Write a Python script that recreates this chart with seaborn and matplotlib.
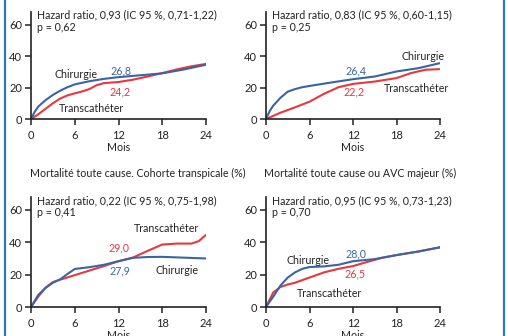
import matplotlib
matplotlib.use("Agg")
import matplotlib.pyplot as plt
import seaborn as sns
import pandas as pd
from matplotlib.lines import Line2D

sns.set_theme(style="white")
plt.rcParams['font.family'] = ['Lato', 'DejaVu Sans']

BLUE = "#3a65a5"
RED = "#e8383d"
FRAME = "#2a7ab9"
INK = "#222222"

# ---- data (cumulative event rate, %) ----
months = [0, 6, 12, 18, 24]

# Panel 1
p1_blue_t = [0, 0.5, 1, 2, 3, 4, 5, 6, 8, 10, 12, 15, 18, 21, 24]
p1_blue_v = [0, 4.5, 7.9, 12, 15.3, 18, 20.2, 22, 24, 25.5, 26.6, 27.8, 29, 31.5, 34.5]
p1_red_t = [0, 1, 2, 3, 4, 5, 6, 7, 8, 9, 10, 12, 14, 16, 18, 20, 22, 24]
p1_red_v = [0, 3, 6.5, 10, 13, 15, 16.3, 17.5, 19, 21.5, 22.8, 23.5, 25, 27, 29.2, 31.5, 33.5, 35]

# Panel 2
p2_blue_t = [0, 0.5, 1, 2, 3, 4, 5, 6, 9, 12, 15, 18, 21, 24]
p2_blue_v = [0, 5, 8.5, 13.5, 17.4, 19, 20.2, 21, 23.2, 25.3, 27, 30.2, 32.3, 35.5]
p2_red_t = [0, 2, 4, 6, 8, 10, 12, 15, 18, 20, 22, 24]
p2_red_v = [0, 4, 7.4, 11, 16, 20.2, 22.3, 23.8, 26, 29.2, 31.3, 31.7]

# Panel 3
p3_blue_t = [0, 1, 2, 3, 4, 5, 6, 8, 10, 12, 14, 16, 18, 21, 24]
p3_blue_v = [0, 7.5, 11.8, 15, 17.1, 20.4, 23.5, 24.6, 26.1, 28.3, 30.4, 30.9, 31, 30.5, 30]
p3_red_t = [0, 1, 2, 3, 4, 6, 8, 10, 12, 14, 16, 18, 20, 22, 23, 24]
p3_red_v = [0, 6.4, 12, 15.4, 16.9, 19.7, 22.5, 25.3, 28.3, 30.6, 34.7, 38.6, 39.2, 39.2, 40.7, 44.6]

# Panel 4
p4_blue_t = [0, 1, 2, 3, 4, 5, 6, 8, 10, 12, 15, 18, 21, 24]
p4_blue_v = [0, 6.4, 13.3, 18.2, 21.4, 23.6, 24.7, 25.1, 26.1, 28.3, 29.6, 32.1, 34.3, 36.9]
p4_red_t = [0, 1, 2, 3, 4, 6, 8, 10, 12, 14, 16, 18, 21, 24]
p4_red_v = [0, 9, 12.4, 13.9, 15, 18.2, 21.4, 23.6, 25.3, 27.9, 30.4, 32.1, 34.3, 36.9]

headers = [
    ("Hazard ratio, 0,93 (IC 95 %, 0,71-1,22)", "p = 0,62"),
    ("Hazard ratio, 0,83 (IC 95 %, 0,60-1,15)", "p = 0,25"),
    ("Hazard ratio, 0,22 (IC 95 %, 0,75-1,98)", "p = 0,41"),
    ("Hazard ratio, 0,95 (IC 95 %, 0,73-1,23)", "p = 0,70"),
]
titles = [None, None,
          "Mortalité toute cause. Cohorte transpicale (%)",
          "Mortalité toute cause ou AVC majeur (%)"]
blue_vals = ["26,8", "26,4", "27,9", "28,0"]
red_vals = ["24,2", "22,2", "29,0", "26,5"]

W, H = 508, 336
fig = plt.figure(figsize=(W / 100, H / 100), dpi=100)

def fx(px):
    return px / W

def fy(py):
    return 1 - py / H

# axes placement in pixels: (x0, x24, y0, ytop)
boxes = [
    (31, 206, 119, 12),
    (266, 440, 119, 12),
    (31, 206, 307, 197),
    (266, 440, 307, 197),
]
series = [
    (p1_blue_t, p1_blue_v, p1_red_t, p1_red_v),
    (p2_blue_t, p2_blue_v, p2_red_t, p2_red_v),
    (p3_blue_t, p3_blue_v, p3_red_t, p3_red_v),
    (p4_blue_t, p4_blue_v, p4_red_t, p4_red_v),
]
# label positions in data coords
label_pos = [
    dict(bv=(12.3, 30.5), rv=(12.2, 17.5), ch=(6.2, 28.5), tr=(8.3, 6.7)),
    dict(bv=(12.4, 30.8), rv=(12.1, 17.3), ch=(21.7, 39.5), tr=(20.7, 19.3)),
    dict(bv=(12.2, 22.0), rv=(12.1, 36.5), ch=(20.0, 22.5), tr=(18.6, 48.5)),
    dict(bv=(12.4, 33.0), rv=(12.3, 20.5), ch=(5.8, 29.0), tr=(8.8, 8.5)),
]
YTOP = 68
FS = 7.7

for i, (x0, x1, y0, yt) in enumerate(boxes):
    ax = fig.add_axes([fx(x0), fy(y0), fx(x1 - x0), (y0 - yt) / H])
    bt, bv, rt, rv = series[i]
    dfb = pd.DataFrame({"t": bt, "v": bv})
    dfr = pd.DataFrame({"t": rt, "v": rv})
    sns.lineplot(data=dfr, x="t", y="v", ax=ax, color=RED, linewidth=1.5)
    sns.lineplot(data=dfb, x="t", y="v", ax=ax, color=BLUE, linewidth=1.5)
    ax.set_xlim(0, 24)
    ax.set_ylim(0, YTOP)
    ax.set_xticks(months)
    ax.set_yticks([0, 20, 40, 60])
    ax.set_xlabel("Mois", fontsize=FS, color=INK, labelpad=0.5)
    ax.set_ylabel("")
    for s in ["top", "right"]:
        ax.spines[s].set_visible(False)
    for s in ["left", "bottom"]:
        ax.spines[s].set_color(INK)
        ax.spines[s].set_linewidth(1.2)
    ax.tick_params(axis="both", which="both", direction="out", length=4,
                   width=1.1, color=INK, labelsize=8, labelcolor=INK, pad=2.5,
                   left=True, bottom=True)
    ax.tick_params(axis="x", pad=4)
    ax.patch.set_alpha(0)
    hr, pv = headers[i]
    ax.text(0.035, 0.97, hr, transform=ax.transAxes, fontsize=FS, color=INK,
            va="center", ha="left")
    ax.text(0.035, 0.855, pv, transform=ax.transAxes, fontsize=FS, color=INK,
            va="center", ha="left")
    lp = label_pos[i]
    ax.text(*lp["bv"], blue_vals[i], color=BLUE, fontsize=FS, ha="center", va="center")
    ax.text(*lp["rv"], red_vals[i], color=RED, fontsize=FS, ha="center", va="center")
    ax.text(*lp["ch"], "Chirurgie", color=INK, fontsize=FS, ha="center", va="center")
    ax.text(*lp["tr"], "Transcathéter", color=INK, fontsize=FS, ha="center", va="center")
    if titles[i]:
        cx = 138 if i == 2 else 360
        fig.text(fx(cx), fy(173), titles[i], fontsize=FS, color=INK,
                 ha="center", va="center")

# decorative frame lines
fig.add_artist(Line2D([fx(4.5), fx(4.5)], [0, 1], color=FRAME, linewidth=1.6))
fig.add_artist(Line2D([fx(503.5), fx(503.5)], [0, 1], color=FRAME, linewidth=1.6))

fig.savefig("out.png", dpi=100)
